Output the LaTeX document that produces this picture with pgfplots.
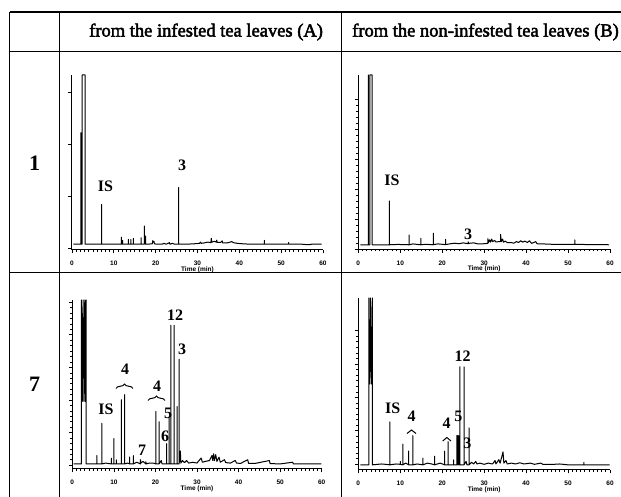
\documentclass[border=0pt]{standalone}
\usepackage{fontspec}
\setmainfont{Liberation Serif}
\newfontfamily\sanss{Liberation Sans}
\newfontfamily\headfont[FakeBold=2.5]{Liberation Serif}
\usepackage{pgfplots}
\pgfplotsset{compat=1.18}
\usetikzlibrary{decorations.pathreplacing}
\pgfplotsset{
  chrom/.style={
    scale only axis, xmin=0, xmax=60, ymin=0, ymax=100,
    anchor=south west,
    axis x line*=bottom, axis y line*=left,
    xtick={0,10,...,60}, minor x tick num=9,
    tick align=outside,
    major tick length=3.5pt, minor tick length=2pt,
    yticklabels={},
    /pgf/number format/assume math mode=true,
    xticklabel style={font=\sanss\bfseries\fontsize{6.5}{7}\selectfont, inner sep=0pt, anchor=center, yshift=-10pt},
    xlabel={Time (min)},
    xlabel style={font=\sanss\bfseries\fontsize{6.5}{7}\selectfont, inner sep=0pt, at={(axis description cs:0.5,0)}, anchor=center, yshift=-19.5pt},
    axis line style={line width=1pt, black},
    tick style={line width=0.7pt, black},
    clip=true,
    cycle list={{black, mark=none}},
    every axis plot post/.append style={black, line width=1pt, line join=round, mark=none},
  }
}
\newcommand{\lab}[3]{\node[font=\bfseries\fontsize{16}{16}\selectfont, inner sep=0pt] at (#1pt,{(497-#2)*1pt}) {#3};}
\begin{document}
\begin{tikzpicture}
\useasboundingbox (0pt,0pt) rectangle (621pt,497pt);
% table grid
\draw[line width=1.4pt] (9.5pt,485pt) -- (621pt,485pt);
\draw[line width=1.4pt] (9.5pt,445.5pt) -- (621pt,445.5pt);
\draw[line width=1.4pt] (9.5pt,224.5pt) -- (621pt,224.5pt);
\draw[line width=1.4pt] (9.5pt,485pt) -- (9.5pt,0pt);
\draw[line width=1.4pt] (59.4pt,485pt) -- (59.4pt,0pt);
\draw[line width=1.4pt] (341.5pt,485pt) -- (341.5pt,0pt);
% headers
\node[anchor=west, inner sep=0pt, font=\headfont\fontsize{18.5}{20}\selectfont] at (89pt,465pt) {from the infested tea leaves (A)};
\node[anchor=west, inner sep=0pt, font=\headfont\fontsize{18.5}{20}\selectfont] at (352pt,465pt) {from the non-infested tea leaves (B)};
\node[inner sep=0pt, font=\bfseries\fontsize{22}{22}\selectfont] at (34.5pt,334pt) {1};
\node[inner sep=0pt, font=\bfseries\fontsize{22}{22}\selectfont] at (34.5pt,113pt) {7};

% ---- A1 ----
\begin{axis}[chrom, at={(72pt,247pt)}, width=251pt, height=175pt, ytick={1,30.8,60.5,90.3}, minor y tick num=9]
\addplot coordinates {(0.3,3.3)(2.1,3.3)(2.1,67)(2.1,3.3)(2.45,3.3)(2.45,100)(3.15,100)(3.15,3.3)(7.1,3.3)(7.1,26)(7.1,3.3)
(11.8,3.3)(11.8,7.3)(11.8,3.3)(12.1,3.3)(12.1,5.5)(12.1,3.3)(13.5,3.3)(13.5,6.1)(13.5,3.3)(14.1,3.3)(14.1,6.0)(14.1,3.3)(14.7,3.3)(14.7,6.7)(14.7,3.3)(16.5,3.3)(16.5,7)(16.5,3.3)(17.3,3.3)(17.3,13.7)(17.3,3.8)(17.6,3.8)(17.6,8)(17.6,3.3)
(19.2,3.5)(19.3,5.3)(19.45,4.5)(19.6,5)(19.7,3.5)(20.5,3.3)(21.5,3.3)(22.0,3.8)(22.5,3.3)(23.3,4.2)(23.4,3.3)(24.0,3.8)(24.5,3.3)
(25.5,3.3)(25.5,35.8)(25.5,3.3)
(27,3.3)(29,3.5)(30.5,3.8)(30.7,4.5)(30.9,3.8)(31.5,4)(32.5,4.5)(33.2,4.2)(33.3,6.7)(33.4,4.4)(34.0,5)(34.5,4.5)(34.6,5.6)(34.7,4.3)(35.5,4.3)(35.9,5.2)(36.0,4)(37,4)(37.8,4.5)(38.2,4.8)(38.6,4.2)(39.5,3.8)(41,3.5)(43,3.3)(46.0,3.3)(46.0,5.5)(46.0,3.3)(48,3.3)(51.8,3.3)(51.8,4.3)(51.8,3.3)(55,3.3)(56.5,3.0)(57.3,3.3)(59.7,3.3)};
\end{axis}

% ---- B1 ----
\begin{axis}[chrom, at={(358.3pt,247.5pt)}, width=251.7pt, height=174.5pt, ytick={0,17.2,34.4,51.6,68.8,86}, minor y tick num=4]
\addplot coordinates {(0.5,2.7)(2.4,2.7)(2.4,100)(2.4,2.7)(2.75,2.7)(2.75,100)(3.3,100)(3.3,2.7)(7.4,2.7)(7.4,27.8)(7.4,2.7)(9.5,2.9)(12.1,2.7)(12.1,8.3)(12.1,2.7)(13,3.2)(14.9,2.7)(14.9,6.4)(14.9,2.7)(16,3.0)(17.9,2.7)(17.9,9.3)(17.9,2.8)(19,3.2)(20.8,2.8)(20.8,5.8)(20.8,2.8)(22,3.3)(23,3.6)(24,3.3)(25,3.8)(26.2,3.3)(26.2,4.4)(26.3,3.5)(27.5,3.8)(28.5,3.2)(30,3.3)(30.9,3.5)(30.9,6.2)(31.0,4)(31.3,5.5)(31.5,4.2)(31.8,6)(32,4.5)(32.5,5.2)(32.8,4.3)(33.5,4.5)(33.9,4.5)(33.9,8.6)(34.1,4.5)(34.4,6)(34.6,4.2)(35,4.8)(35.5,4)(36.5,4)(37,3.6)(37.7,4.5)(38.2,4)(38.7,5)(39.2,4.2)(39.7,4.8)(40.3,4)(40.8,5)(41.3,3.5)(42.3,4.5)(42.6,3.3)(44,3.2)(46,3)(48,3)(51.6,3.0)(51.6,5.5)(51.6,3.0)(55,2.8)(58,2.8)(59.8,2.7)};
\end{axis}

% ---- A7 ----
\begin{axis}[chrom, at={(72.3pt,28pt)}, width=249.4pt, height=169pt, ytick={2.2,21.5,40.8,60.1,79.4,98.7}, minor y tick num=5]
\addplot coordinates {(0.3,3)(2.2,3)(2.2,100)(2.4,40)(2.6,100)(2.8,40)(3.0,100)(3.15,40)(3.3,100)(3.3,3)
(5.9,3)(5.9,8)(5.9,3)(7.1,3)(7.1,27)(7.1,3)(8,3.5)(9.4,3)(9.4,6.4)(9.4,3)(10.0,3)(10.0,18)(10.0,3)(10.6,3)(10.6,5.4)(10.6,3)(11.8,3)(11.8,41)(11.8,3)(12.6,3)(12.6,44)(12.6,3)(13.3,3.5)(13.8,3)(13.8,7.1)(13.8,3)(14.7,3)(14.7,7.9)(14.7,3)(15.5,4)(16.4,3)(16.4,5.5)(16.5,3.5)(17.0,4.5)(17.7,3)(17.7,4.3)(17.8,3)(18.5,3.5)(19.5,3.5)(20.1,3)(20.1,34)(20.1,3)(20.9,3)(20.9,28)(20.9,3)(21.4,5)(21.6,3)(22.7,3)(22.7,15)(22.7,3)(23.3,3)(23.3,30)(23.3,3)(23.7,3)(23.7,85)(23.7,3)(24.5,3)(24.5,85)(24.5,3)(25.2,3)(25.2,37)(25.2,3)(25.7,3)(25.7,65)(25.7,3)(26.0,10.7)(26.1,3.5)(26.5,5)(27,3.8)(27.5,5)(28,3.5)(29,4)(30,3.5)(31.0,6.5)(31.3,4)(32,4.5)(33,5)(33.6,8)(33.8,5)(34.0,9)(34.2,5)(34.5,8.5)(34.8,4.5)(35.3,7)(35.6,4)(36.6,5.5)(36.9,3.8)(38,3.5)(39.2,5)(39.5,3.5)(40.5,3.3)(42.2,5.5)(42.4,3.3)(44,3.3)(47.4,5)(47.6,3.2)(50,3)(53,4)(53.2,3)(57,3)(59.9,3)};
\end{axis}

% ---- B7 ----
\begin{axis}[chrom, at={(358.3pt,27pt)}, width=251.7pt, height=172pt, ytick={3.4,22.8,42.2,61.6,81.0}, minor y tick num=5]
\addplot coordinates {(0.5,3)(2.5,3)(2.5,100)(2.7,50)(2.9,100)(3.1,50)(3.35,100)(3.35,3)
(5.5,3.5)(6.5,3.3)(7.5,3)(7.5,28)(7.5,3)(9,3.5)(10.0,3.3)(10.0,5)(10.0,3.3)(10.6,3)(10.6,15)(10.6,3)(11.3,4)(12.0,3)(12.0,11)(12.0,3)(13.0,3)(13.0,20)(13.0,3)(14,3.5)(15.4,3)(15.4,6.9)(15.4,3)(16.5,4)(17.5,3.5)(18.2,3)(18.2,8)(18.2,3)(19.5,4)(20.6,3)(20.6,11)(20.6,3)(21.4,3)(21.4,16.5)(21.4,3)(22.7,3)(22.7,5.9)(22.7,3)
(23.5,3)(23.5,20)(23.6,3)(23.7,20)(23.8,3)(23.9,20)(24.0,3)
(24.2,3)(24.2,60)(24.2,3)(25.2,3)(25.2,60)(25.2,3)(25.7,5)(25.9,3)(26.4,3)(26.4,24.5)(26.4,3)(27,4.5)(27.5,3.5)(28,5)(28.3,3.5)(29,4)(30,3.3)(31,4)(32,3.5)(32.6,5.5)(32.8,3.5)(33.5,6)(33.8,4)(34.5,10.5)(34.7,4)(35.2,5.5)(35.5,3.5)(36.5,4)(37.5,3.5)(38.5,4.2)(39.5,3.5)(41,4)(42,3.3)(43.5,4)(44,3.3)(46,3.2)(48,3.5)(50,3)(53.8,3)(53.8,4.5)(53.8,3)(56,3)(59.9,3)};
\end{axis}

% ---- peak labels ----
\lab{105.5}{186}{IS}
\lab{182}{165}{3}
\lab{392}{180}{IS}
\lab{468}{234}{3}
\lab{175}{315}{12}
\lab{182}{349}{3}
\lab{125}{369}{4}
\lab{157}{386}{4}
\lab{106}{409}{IS}
\lab{168}{413}{5}
\lab{165}{436}{6}
\lab{142}{450}{7}
\lab{392.7}{408}{IS}
\lab{411.7}{416.7}{4}
\lab{446.7}{423.3}{4}
\lab{462.7}{356.7}{12}
\lab{458.3}{416.7}{5}
\lab{467.3}{443.3}{3}
\draw[decorate, decoration={brace, amplitude=4.5pt}, line width=1pt] (116pt,108.5pt) -- (133pt,108.5pt);
\draw[decorate, decoration={brace, amplitude=4.5pt}, line width=1pt] (148pt,96.5pt) -- (165pt,96.5pt);
\draw[decorate, decoration={brace, amplitude=3.5pt}, line width=1pt] (407pt,63.5pt) -- (416pt,63.5pt);
\draw[decorate, decoration={brace, amplitude=3.5pt}, line width=1pt] (442.7pt,56pt) -- (451pt,56pt);
\end{tikzpicture}
\end{document}
